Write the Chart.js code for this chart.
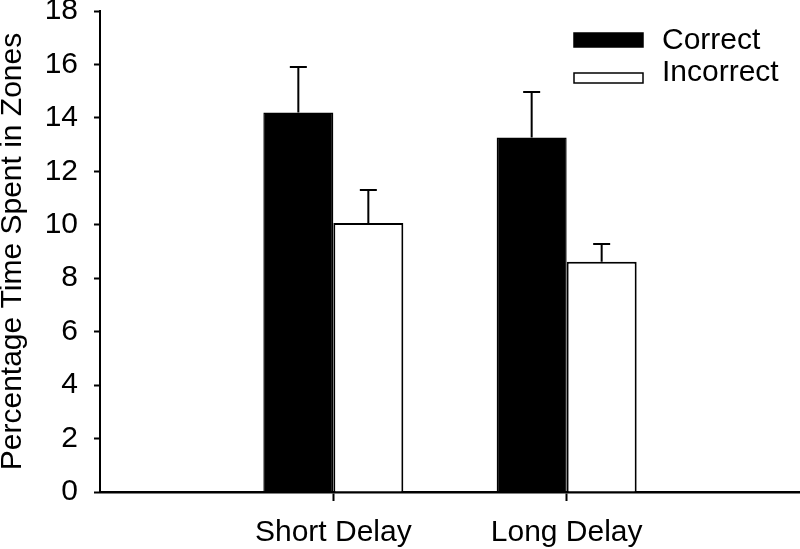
<!DOCTYPE html>
<html>
<head>
<meta charset="utf-8">
<script src="https://cdn.jsdelivr.net/npm/chart.js@4"></script>
<style>
  html, body { margin: 0; padding: 0; background: #fff; }
  #wrap { width: 800px; height: 549px; }
</style>
</head>
<body>
<div id="wrap"><canvas id="chart" width="800" height="549"></canvas></div>
<script>
// data
const categories = ["Short Delay", "Long Delay"];
const correctMean = [14.2, 13.27];
const correctErr = [1.7, 1.7];
const incorrectMean = [10.07, 8.62];
const incorrectErr = [1.23, 0.66];
const yTicks = [0, 2, 4, 6, 8, 10, 12, 14, 16, 18];

const FONT = "'Liberation Sans', Arial, sans-serif";

// empty slots either side so the groups sit where the original has them
const axisLabels = [""].concat(categories, [""]);

function toPoints(vals) {
  return categories.map((c, i) => ({ x: c, y: vals[i] }));
}

// one-sided error bars (up only), cap centred on bar
const errorBars = {
  id: "errorBars",
  afterDatasetsDraw(chart) {
    const ctx = chart.ctx;
    const y = chart.scales.y;
    ctx.save();
    ctx.strokeStyle = "#000";
    ctx.lineWidth = 2;
    chart.data.datasets.forEach((ds, di) => {
      const meta = chart.getDatasetMeta(di);
      meta.data.forEach((bar, i) => {
        const top = y.getPixelForValue(ds.data[i].y + ds.errors[i]);
        const base = y.getPixelForValue(ds.data[i].y);
        ctx.beginPath();
        ctx.moveTo(bar.x, base);
        ctx.lineTo(bar.x, top);
        ctx.moveTo(bar.x - 8.5, top);
        ctx.lineTo(bar.x + 8.5, top);
        ctx.stroke();
      });
    });
    ctx.restore();
  }
};

// legend in the top right corner of the plot
const boxLegend = {
  id: "boxLegend",
  afterDraw(chart) {
    const ctx = chart.ctx;
    ctx.save();
    ctx.font = "30px " + FONT;
    ctx.textBaseline = "middle";
    ctx.fillStyle = "#000";
    chart.data.datasets.forEach((ds, i) => {
      const bx = 574, by = i === 0 ? 33 : 73;
      const bh = i === 0 ? 14 : 10;
      ctx.fillStyle = ds.backgroundColor;
      ctx.fillRect(bx, by, 69, bh);
      ctx.lineWidth = 1.5;
      ctx.strokeStyle = "#000";
      ctx.strokeRect(bx, by, 69, bh);
      ctx.fillStyle = "#000";
      ctx.fillText(ds.label, 662, i === 0 ? 41 : 73);
    });
    ctx.restore();
  }
};

new Chart(document.getElementById("chart"), {
  type: "bar",
  data: {
    labels: axisLabels,
    datasets: [
      {
        label: "Correct",
        data: toPoints(correctMean),
        errors: correctErr,
        backgroundColor: "#000",
        borderColor: "#000",
        borderWidth: 1.5,
        categoryPercentage: 0.6,
        barPercentage: 1.0
      },
      {
        label: "Incorrect",
        data: toPoints(incorrectMean),
        errors: incorrectErr,
        backgroundColor: "#fff",
        borderColor: "#000",
        borderWidth: 2,
        categoryPercentage: 0.6,
        barPercentage: 1.0
      }
    ]
  },
  options: {
    responsive: false,
    animation: false,
    layout: { padding: { top: 11, right: 0, left: 0, bottom: 0 } },
    plugins: {
      legend: { display: false },
      tooltip: { enabled: false }
    },
    scales: {
      x: {
        offset: false,
        grid: {
          offset: false,
          drawOnChartArea: false,
          tickLength: 9,
          tickWidth: 2,
          tickColor: (c) => (c.index === 0 || c.index === axisLabels.length - 1 ? "rgba(0,0,0,0)" : "#000")
        },
        border: { color: "#000", width: 2.5 },
        ticks: {
          autoSkip: false,
          maxRotation: 0,
          padding: 14,
          color: "#000",
          font: { family: FONT, size: 30 }
        },
        afterFit(s) { s.height = 57; s.paddingLeft = 0; s.paddingRight = 0; }
      },
      y: {
        min: 0,
        max: 18,
        afterBuildTicks(s) { s.ticks = yTicks.map((v) => ({ value: v })); },
        grid: { drawOnChartArea: false, tickLength: 6, tickWidth: 2, tickColor: "#000" },
        border: { color: "#000", width: 2 },
        ticks: {
          padding: 16,
          color: "#000",
          font: { family: FONT, size: 30 }
        },
        title: {
          display: true,
          text: "Percentage Time Spent in Zones",
          color: "#000",
          font: { family: FONT, size: 30, lineHeight: 0.87 },
          padding: { top: 0, bottom: 0 }
        },
        afterFit(s) { s.width = 100; s.paddingTop = 0; s.paddingBottom = 0; }
      }
    }
  },
  plugins: [errorBars, boxLegend]
});
</script>
</body>
</html>
